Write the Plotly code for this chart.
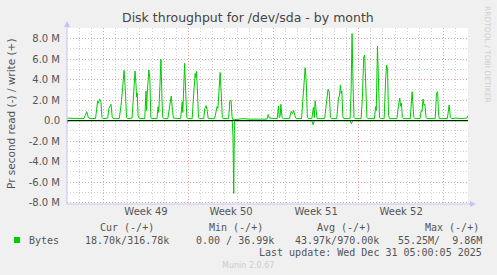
import plotly.graph_objects as go
import pandas as pd

# ---------------- data (days since 2025-11-28 00:00, values in MB/s) -------------
start = pd.Timestamp("2025-11-28 00:00")
end = pd.Timestamp("2025-12-31 00:00")

write_days = [
    0.0, 0.1, 0.5, 1.0, 1.4,
    1.5, 1.62, 1.75, 1.9,
    2.35, 2.45, 2.52, 2.6, 2.68, 2.78, 2.88, 3.0,
    3.35, 3.45, 3.55, 3.62, 3.72, 3.8,
    4.3, 4.45, 4.6, 4.7, 4.8, 4.9, 5.0,
    5.35, 5.45, 5.55, 5.6, 5.68, 5.72, 5.78, 5.85, 5.95,
    6.4, 6.5, 6.55, 6.62, 6.74, 6.82, 6.9, 7.0,
    7.4, 7.5, 7.55, 7.65, 7.73, 7.82, 7.88, 8.0,
    8.3, 8.42, 8.5, 8.58, 8.68, 8.76,
    9.35, 9.48, 9.53, 9.6, 9.68, 9.78, 9.86, 9.95,
    10.3, 10.42, 10.5, 10.55, 10.6, 10.66, 10.75, 10.82, 10.9,
    11.25, 11.35, 11.45, 11.55, 11.62,
    12.15, 12.35, 12.42, 12.5, 12.6, 12.7, 12.78, 12.85,
    13.3, 13.4, 13.5, 13.58, 13.65,
    13.8, 14.0, 14.5, 15.0, 15.5, 16.0, 16.45, 16.56, 16.65, 17.0,
    17.3, 17.4, 17.47, 17.55, 17.6, 17.7, 17.8,
    18.3, 18.45, 18.55, 18.65, 18.75, 18.85,
    19.3, 19.4, 19.48, 19.6, 19.68, 19.78, 19.85,
    20.15, 20.28, 20.35, 20.42, 20.5, 20.58,
    21.2, 21.35, 21.48, 21.58, 21.68, 21.75,
    22.2, 22.35, 22.42, 22.5, 22.56, 22.62, 22.7, 22.78,
    23.3, 23.38, 23.46, 23.55, 23.62, 23.7,
    24.2, 24.3, 24.42, 24.5, 24.6, 24.68, 24.75,
    25.3, 25.4, 25.45, 25.55, 25.65, 25.72, 25.8,
    26.1, 26.22, 26.3, 26.38, 26.46, 26.55,
    27.15, 27.28, 27.38, 27.46, 27.52, 27.6, 27.68,
    28.25, 28.4, 28.5, 28.55, 28.62,
    29.05, 29.15, 29.22, 29.3, 29.38, 29.45, 29.55, 29.62,
    30.3, 30.4, 30.5, 30.58, 30.65,
    31.0, 31.3, 31.45, 31.55, 31.65, 32.0, 32.5, 32.9, 33.0,
]
write_vals = [
    0.15, 0.25, 0.22, 0.25, 0.22,
    0.5, 0.88, 0.3, 0.2,
    0.22, 1.2, 1.9, 1.7, 2.1, 2.0, 0.3, 0.2,
    0.25, 1.2, 1.5, 1.6, 0.4, 0.2,
    0.2, 1.5, 3.5, 4.9, 3.0, 0.3, 0.2,
    0.25, 2.0, 4.7, 4.85, 3.5, 2.3, 2.7, 0.5, 0.2,
    0.2, 2.9, 1.0, 3.0, 4.95, 4.0, 0.3, 0.2,
    0.2, 1.37, 0.8, 3.5, 6.0, 2.0, 0.3, 0.2,
    0.2, 1.2, 1.9, 2.4, 1.0, 0.25,
    0.2, 1.85, 0.8, 3.5, 5.6, 2.5, 0.3, 0.2,
    0.2, 2.5, 4.1, 4.6, 4.2, 4.8, 2.5, 0.3, 0.2,
    0.2, 1.2, 1.46, 0.9, 0.2,
    0.2, 1.37, 1.2, 3.3, 4.7, 2.5, 0.3, 0.2,
    0.2, 1.9, 2.0, 0.4, 0.1,
    0.1, 0.15, 0.2, 0.15, 0.18, 0.15, 0.15, 0.6, 0.25, 0.2,
    0.2, 1.43, 0.3, 0.5, 1.6, 0.3, 0.2,
    0.2, 0.9, 0.7, 1.0, 0.5, 0.2,
    0.2, 2.0, 3.25, 5.17, 4.0, 0.3, 0.2,
    0.2, 1.3, 0.3, 1.95, 0.6, 0.2,
    0.2, 2.0, 3.05, 2.8, 0.3, 0.2,
    0.2, 2.3, 2.4, 3.48, 2.67, 2.9, 0.4, 0.2,
    0.2, 3.0, 8.5, 3.0, 0.3, 0.2,
    0.2, 2.0, 6.2, 6.4, 2.5, 0.3, 0.2,
    0.2, 1.37, 1.0, 7.28, 3.0, 0.3, 0.2,
    0.2, 4.0, 5.43, 5.0, 0.5, 0.2,
    0.2, 1.5, 2.2, 1.4, 1.7, 0.3, 0.2,
    0.2, 2.83, 1.0, 0.3, 0.2,
    0.2, 1.0, 0.9, 2.1, 1.5, 1.6, 0.3, 0.2,
    0.2, 2.6, 2.83, 0.5, 0.2,
    0.2, 0.2, 1.53, 0.3, 0.2, 0.25, 0.2, 0.25, 0.5,
]

read_days = [0.0, 0.03, 0.1, 13.6, 13.66, 13.72, 13.78, 13.85,
             20.15, 20.25, 20.35, 23.3, 23.4, 23.5, 33.0]
read_vals = [0.0, -0.2, 0.0, 0.0, -1.5, -7.1, -0.1, 0.0,
             0.0, -0.4, 0.0, 0.0, -0.3, 0.0, 0.0]

y_tick_vals = [-8, -6, -4, -2, 0, 2, 4, 6, 8]
y_tick_text = ["-8.0 M", "-6.0 M", "-4.0 M", "-2.0 M", "0.0",
               "2.0 M", "4.0 M", "6.0 M", "8.0 M"]

legend_headers = ["Cur (-/+)", "Min (-/+)", "Avg (-/+)", "Max (-/+)"]
legend_values = ["18.70k/316.78k", "0.00 / 36.99k", "43.97k/970.00k", "55.25M/\u00a0\u00a09.86M"]

# ---------------- figure -------------
W, H = 497, 275
L, R, T, B = 67, 468, 28, 204
GREEN = "#00cc00"
MAJ = "#e8a0a0"
MIN = "#d0d0d0"
TXT = "#555555"
DASH = "1px,2px"


def px(x):
    return (x - L) / (R - L)


def py(y):
    return (B - y) / (B - T)


def to_time(days):
    return [start + pd.to_timedelta(d, unit="D") for d in days]


fig = go.Figure()
fig.add_trace(go.Scatter(x=to_time(read_days), y=[v * 1e6 for v in read_vals],
                         mode="lines", line=dict(color=GREEN, width=1),
                         hoverinfo="skip", showlegend=False))
fig.add_trace(go.Scatter(x=to_time(write_days), y=[v * 1e6 for v in write_vals],
                         mode="lines", line=dict(color=GREEN, width=1),
                         hoverinfo="skip", showlegend=False))

fig.update_layout(
    width=W, height=H,
    margin=dict(l=L, r=W - R, t=T, b=H - B, pad=0),
    paper_bgcolor="#f0f0f0", plot_bgcolor="#ffffff",
    font=dict(family="DejaVu Sans", size=10, color=TXT),
    showlegend=False,
)

fig.update_xaxes(
    type="date", range=[start, end],
    tick0="2025-12-01", dtick=7 * 86400000, ticklabelmode="period",
    tickformat="Week %V", showgrid=True, gridcolor=MAJ, griddash=DASH, gridwidth=1,
    ticks="", showline=False, zeroline=False,
    tickfont=dict(family="DejaVu Sans", size=10, color=TXT),
    minor=dict(dtick=86400000, tick0="2025-12-01", showgrid=True,
               gridcolor=MIN, griddash=DASH, gridwidth=1),
)
fig.update_yaxes(
    range=[-8.13e6, 9.04e6],
    tickmode="array", tickvals=[v * 1e6 for v in y_tick_vals], ticktext=y_tick_text,
    showgrid=True, gridcolor=MAJ, griddash=DASH, gridwidth=1,
    zeroline=False, showline=False, ticks="", ticklabelstandoff=6,
    tickfont=dict(family="DejaVu Sans", size=10, color=TXT),
    minor=dict(tickmode="linear", tick0=0, dtick=1e6, showgrid=True,
               gridcolor=MIN, griddash=DASH, gridwidth=1),
)

shapes = []
# zero line
shapes.append(dict(type="line", xref="paper", yref="y", x0=0, x1=1, y0=0, y1=0,
                   line=dict(color="#000000", width=1), layer="above"))
# axis lines with arrows
AX = "#c4c4f4"
shapes.append(dict(type="line", xref="paper", yref="paper", x0=0, x1=0,
                   y0=py(B), y1=py(23), line=dict(color=AX, width=1), layer="above"))
shapes.append(dict(type="path", xref="paper", yref="paper",
                   path=f"M {px(L-3)} {py(27)} L {px(L+3)} {py(27)} L {px(L)} {py(21)} Z",
                   fillcolor=AX, line=dict(width=0), layer="above"))
shapes.append(dict(type="line", xref="paper", yref="paper", x0=0, x1=px(474),
                   y0=0, y1=0, line=dict(color=AX, width=1), layer="above"))
shapes.append(dict(type="path", xref="paper", yref="paper",
                   path=f"M {px(470)} {py(B-3)} L {px(470)} {py(B+3)} L {px(476)} {py(B)} Z",
                   fillcolor=AX, line=dict(width=0), layer="above"))
# legend swatch
shapes.append(dict(type="rect", xref="paper", yref="paper",
                   x0=px(14), x1=px(20), y0=py(243), y1=py(237),
                   fillcolor=GREEN, line=dict(width=0)))
fig.update_layout(shapes=shapes)

ann = []


def add_text(text, x, y, anchor="left", size=10, family="DejaVu Sans Mono",
             color=TXT, angle=0):
    ann.append(dict(text=text, xref="paper", yref="paper", x=px(x), y=py(y),
                    xanchor=anchor, yanchor="middle", showarrow=False,
                    textangle=angle, font=dict(family=family, size=size, color=color)))


add_text("Disk throughput for /dev/sda - by month", 248, 18, anchor="center",
         size=12.5, family="DejaVu Sans", color="#444444")
add_text("Pr second read (-) / write (+)", 11, 114, anchor="center", size=10.5,
         family="DejaVu Sans", angle=-90)
add_text("RRDTOOL / TOBI OETIKER", 488, 54, anchor="center", size=7.5,
         family="DejaVu Sans", color="#cfcfcf", angle=90)

header_x = [98, 207, 315, 423]
for h, x in zip(legend_headers, header_x):
    add_text(h, x, 228)
add_text("Bytes", 27, 240)
value_x = [83, 194, 293, 484]
for i, (v, x) in enumerate(zip(legend_values, value_x)):
    add_text(v, x, 240, anchor="right" if i == 3 else "left")
add_text("Last update: Wed Dec 31 05:00:05 2025", 484, 252, anchor="right")
add_text("Munin 2.0.67", 248, 265, anchor="center", size=8, family="DejaVu Sans",
         color="#cccccc")
fig.update_layout(annotations=ann)

fig.write_html("out.html")
